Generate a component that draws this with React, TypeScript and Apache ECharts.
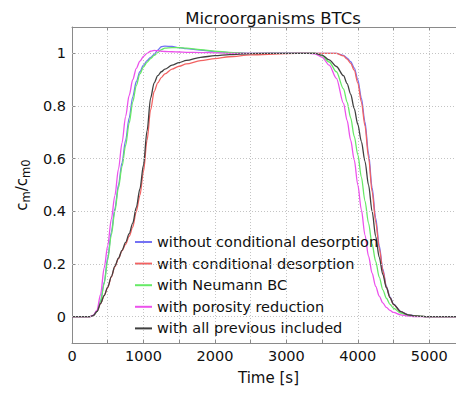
import React, { useEffect, useRef } from "react";
import * as echarts from "echarts";

// Breakthrough curves: time [s] vs normalised concentration
const TIME = [
  0, 250, 300, 350, 400, 450, 500, 550, 600, 650, 700, 750, 800, 850, 900, 950,
  1000, 1050, 1100, 1150, 1200, 1250, 1300, 1400, 1500, 1600, 1800, 2000, 2200,
  2500, 3000, 3300, 3400, 3500, 3600, 3700, 3800, 3850, 3900, 3950, 4000, 4050,
  4100, 4150, 4200, 4250, 4300, 4350, 4400, 4450, 4500, 4600, 4700, 4800, 4900,
  5000, 5500,
];

const WITHOUT_COND_DESORPTION = [
  0, 0, 0.005, 0.02, 0.06, 0.13, 0.225, 0.32, 0.41, 0.5, 0.585, 0.67, 0.755, 0.835, 0.893, 0.93,
  0.955, 0.972, 0.985, 0.996, 1.012, 1.025, 1.027, 1.026, 1.022, 1.018, 1.012, 1.006, 1.003,
  1.0, 1, 1, 1, 1, 1, 1, 0.992, 0.982, 0.968, 0.945, 0.9, 0.83,
  0.74, 0.62, 0.49, 0.375, 0.27, 0.18, 0.115, 0.075, 0.048, 0.02, 0.008, 0.003, 0.001,
  0, 0,
];

const WITH_COND_DESORPTION = [
  0, 0, 0.005, 0.02, 0.05, 0.08, 0.11, 0.15, 0.19, 0.22, 0.25, 0.275, 0.305, 0.34, 0.4, 0.46,
  0.55, 0.67, 0.785, 0.855, 0.888, 0.908, 0.922, 0.94, 0.951, 0.96, 0.972, 0.98, 0.987,
  0.994, 0.999, 1, 1, 1, 1, 1, 0.99, 0.978, 0.962, 0.936, 0.888, 0.815,
  0.725, 0.605, 0.475, 0.36, 0.26, 0.175, 0.112, 0.072, 0.046, 0.019, 0.007, 0.003, 0.001,
  0, 0,
];

const WITH_NEUMANN_BC = [
  0, 0, 0.005, 0.02, 0.058, 0.125, 0.215, 0.31, 0.4, 0.49, 0.57, 0.65, 0.735, 0.815, 0.878, 0.922,
  0.948, 0.966, 0.98, 0.992, 1.003, 1.014, 1.02, 1.022, 1.022, 1.02, 1.014, 1.008, 1.004,
  1.0, 1, 1, 1, 0.99, 0.967, 0.93, 0.865, 0.815, 0.755, 0.685, 0.615, 0.53,
  0.44, 0.355, 0.275, 0.21, 0.15, 0.102, 0.07, 0.047, 0.032, 0.014, 0.006, 0.002, 0.001,
  0, 0,
];

const WITH_POROSITY_REDUCTION = [
  0, 0, 0.006, 0.025, 0.085, 0.185, 0.27, 0.37, 0.46, 0.56, 0.66, 0.76, 0.84, 0.9, 0.943, 0.97,
  0.988, 1.0, 1.008, 1.011, 1.01, 1.008, 1.007, 1.006, 1.005, 1.004, 1.003, 1.002, 1.0,
  1, 1, 1, 0.998, 0.985, 0.955, 0.905, 0.81, 0.745, 0.67, 0.595, 0.5, 0.405,
  0.31, 0.23, 0.165, 0.115, 0.078, 0.052, 0.035, 0.024, 0.016, 0.007, 0.002, 0, 0,
  0, 0,
];

const WITH_ALL_PREVIOUS = [
  0, 0, 0.005, 0.02, 0.05, 0.08, 0.112, 0.152, 0.192, 0.222, 0.252, 0.282, 0.315, 0.355, 0.415, 0.485,
  0.575, 0.705, 0.83, 0.888, 0.915, 0.93, 0.94, 0.955, 0.965, 0.973, 0.985, 0.991, 0.995,
  0.999, 1, 1, 1, 0.993, 0.975, 0.95, 0.915, 0.885, 0.845, 0.79, 0.73, 0.665,
  0.59, 0.5, 0.4, 0.305, 0.225, 0.16, 0.11, 0.072, 0.047, 0.019, 0.007, 0.003, 0.001,
  0, 0,
];

const SERIES_NAMES = [
  "without conditional desorption",
  "with conditional desorption",
  "with Neumann BC",
  "with porosity reduction",
  "with all previous included",
];
const SERIES_VALUES = [
  WITHOUT_COND_DESORPTION,
  WITH_COND_DESORPTION,
  WITH_NEUMANN_BC,
  WITH_POROSITY_REDUCTION,
  WITH_ALL_PREVIOUS,
];
const SERIES_COLORS = ["#7472f4", "#f26262", "#66ea66", "#ec52ec", "#404040"];

const Y_TICKS = [0, 0.2, 0.4, 0.6, 0.8, 1];

const FONT = "DejaVu Sans, Verdana, sans-serif";

export default function App() {
  const ref = useRef<HTMLDivElement>(null);

  useEffect(() => {
    if (!ref.current) return;
    const chart = echarts.init(ref.current, undefined, { renderer: "svg" });

    const curves = SERIES_NAMES.map((name, i) => ({
      name,
      type: "line",
      xAxisIndex: 0,
      yAxisIndex: 0,
      data: TIME.map((t, k) => [t, SERIES_VALUES[i][k]]),
      showSymbol: false,
      smooth: 0.3,
      smoothMonotone: "x",
      z: 3,
      lineStyle: { color: SERIES_COLORS[i], width: 1.3 },
      itemStyle: { color: SERIES_COLORS[i] },
    }));

    // Horizontal dotted grid at the labelled y ticks
    const gridLines = {
      name: "__grid",
      type: "line",
      data: [],
      silent: true,
      z: 1,
      markLine: {
        silent: true,
        symbol: "none",
        label: { show: false },
        lineStyle: { color: "#c4c4c4", type: [1, 2], width: 1 },
        data: Y_TICKS.map((v) => ({ yAxis: v })),
      },
    };

    chart.setOption({
      animation: false,
      backgroundColor: "#ffffff",
      title: {
        text: "Microorganisms BTCs",
        left: 268,
        top: 5,
        textAlign: "center",
        textStyle: { fontFamily: FONT, fontSize: 16.5, fontWeight: "normal", color: "#111" },
      },
      grid: {
        left: 72,
        top: 27,
        right: 1,
        bottom: 52,
        containLabel: false,
        outerBoundsMode: "none",
      },
      legend: {
        orient: "vertical",
        left: 135,
        top: 233,
        padding: 0,
        itemWidth: 17,
        itemHeight: 2,
        itemGap: 3.6,
        icon: "rect",
        data: SERIES_NAMES,
        textStyle: { fontFamily: FONT, fontSize: 14.5, color: "#111", lineHeight: 18 },
        selectedMode: false,
      },
      xAxis: [
        {
          type: "value",
          min: 0,
          max: 5500,
          interval: 500,
          name: "Time [s]",
          nameLocation: "middle",
          nameGap: 27,
          nameTextStyle: { fontFamily: FONT, fontSize: 15, color: "#111" },
          axisLine: { show: true, onZero: false, lineStyle: { color: "#8a8a8a", width: 1 } },
          axisTick: { show: true, inside: true, length: 3, lineStyle: { color: "#8a8a8a" } },
          axisLabel: {
            fontFamily: FONT,
            fontSize: 14.5,
            color: "#111",
            margin: 5,
            formatter: (v: number) => (v % 1000 === 0 && v <= 5000 ? String(v) : ""),
          },
          splitLine: { show: true, lineStyle: { color: "#c4c4c4", type: [1, 2], width: 1 } },
        },
        {
          type: "value",
          position: "top",
          min: 0,
          max: 5500,
          interval: 500,
          axisLine: { show: true, onZero: false, lineStyle: { color: "#8a8a8a", width: 1 } },
          axisTick: { show: true, inside: true, length: 3, lineStyle: { color: "#8a8a8a" } },
          axisLabel: { show: false },
          splitLine: { show: false },
        },
      ],
      yAxis: [
        {
          type: "value",
          min: -0.1,
          max: 1.1,
          name: "{c|c}{s|m}{c|/c}{s|m0}",
          nameLocation: "middle",
          nameGap: 30,
          nameRotate: 90,
          nameTextStyle: {
            fontFamily: FONT,
            color: "#111",
            rich: {
              c: { fontFamily: FONT, fontSize: 15, color: "#111" },
              s: { fontFamily: FONT, fontSize: 11.5, color: "#111", padding: [9, 0, 0, 0] },
            },
          },
          axisLine: { show: true, onZero: false, lineStyle: { color: "#8a8a8a", width: 1 } },
          axisTick: {
            show: true,
            inside: true,
            length: 3,
            customValues: Y_TICKS,
            lineStyle: { color: "#8a8a8a" },
          },
          axisLabel: {
            fontFamily: FONT,
            fontSize: 14.5,
            color: "#111",
            margin: 6,
            customValues: Y_TICKS,
            formatter: (v: number) => String(Math.round(v * 10) / 10),
          },
          splitLine: { show: false },
        },
      ],
      series: [gridLines, ...curves],
    });

    return () => chart.dispose();
  }, []);

  return (
    <div
      ref={ref}
      style={{ position: "fixed", left: 0, top: 0, width: 466, height: 395, background: "#fff" }}
    />
  );
}
